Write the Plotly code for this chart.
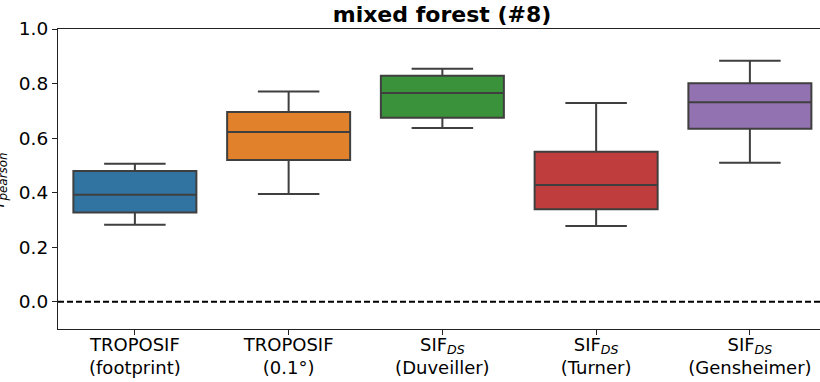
import plotly.graph_objects as go

# Box statistics of Pearson r per SIF product (mixed forest, site #8)
tick_labels = [
    "TROPOSIF<br>(footprint)",
    "TROPOSIF<br>(0.1°)",
    "SIF<sub><i>DS</i></sub><br>(Duveiller)",
    "SIF<sub><i>DS</i></sub><br>(Turner)",
    "SIF<sub><i>DS</i></sub><br>(Gensheimer)",
]
lower_whisker = [0.282, 0.395, 0.637, 0.278, 0.510]
q1 = [0.327, 0.520, 0.675, 0.339, 0.634]
median = [0.392, 0.622, 0.765, 0.428, 0.731]
q3 = [0.479, 0.696, 0.829, 0.550, 0.801]
upper_whisker = [0.506, 0.771, 0.854, 0.729, 0.884]
y_ticks = [0.0, 0.2, 0.4, 0.6, 0.8, 1.0]

colors = ["#3274a1", "#e1812c", "#3a923a", "#c03d3e", "#9372b2"]
edge = "#3f3f3f"
font = "DejaVu Sans"

fig = go.Figure()
for i in range(len(tick_labels)):
    fig.add_trace(go.Box(
        x=[i],
        q1=[q1[i]], median=[median[i]], q3=[q3[i]],
        lowerfence=[lower_whisker[i]], upperfence=[upper_whisker[i]],
        width=0.8,
        whiskerwidth=0.5,
        fillcolor=colors[i],
        line=dict(color=edge, width=2),
        boxpoints=False,
        showlegend=False,
        hoverinfo="skip",
    ))

# zero reference line
fig.add_shape(type="line", xref="paper", yref="y", x0=0, x1=1, y0=0, y1=0,
              line=dict(color="black", width=2, dash="6px,3px"))

fig.update_layout(
    width=820, height=382,
    margin=dict(l=58, r=0, t=29, b=53),
    paper_bgcolor="white", plot_bgcolor="white",
    boxmode="overlay",
    font=dict(family=font, size=18, color="black"),
    title=dict(text="<b>mixed forest (#8)</b>", x=442 / 820, xanchor="center",
               xref="container", yref="container", y=1 - 14 / 382, yanchor="middle",
               font=dict(family=font, size=22, color="black")),
)

fig.update_xaxes(
    range=[-0.5, 4.456], automargin=False,
    tickvals=list(range(len(tick_labels))), ticktext=tick_labels,
    ticks="outside", ticklen=5, tickwidth=1.2, tickcolor="#222222",
    ticklabelstandoff=-6,
    showline=True, linecolor="#222222", linewidth=1.2, mirror=True,
    showgrid=False, zeroline=False,
    tickfont=dict(family=font, size=18, color="black"),
)
fig.update_yaxes(
    range=[-0.1, 1.0], automargin=False,
    tickvals=y_ticks, ticktext=[f"{v:.1f}" for v in y_ticks],
    ticks="outside", ticklen=5, tickwidth=1.2, tickcolor="#222222",
    showline=True, linecolor="#222222", linewidth=1.2,
    showgrid=False, zeroline=False,
    tickfont=dict(family=font, size=18.5, color="black"),
)

# y-axis label, partly clipped at the left edge
fig.add_annotation(
    text="<i>r</i><sub><i>pearson</i></sub>",
    xref="paper", yref="paper", x=(12 - 58) / 762, y=(329 - 180) / 300,
    xanchor="right", yanchor="middle", textangle=-90, showarrow=False,
    font=dict(family=font, size=17, color="black"),
)

fig.write_html("out.html")
